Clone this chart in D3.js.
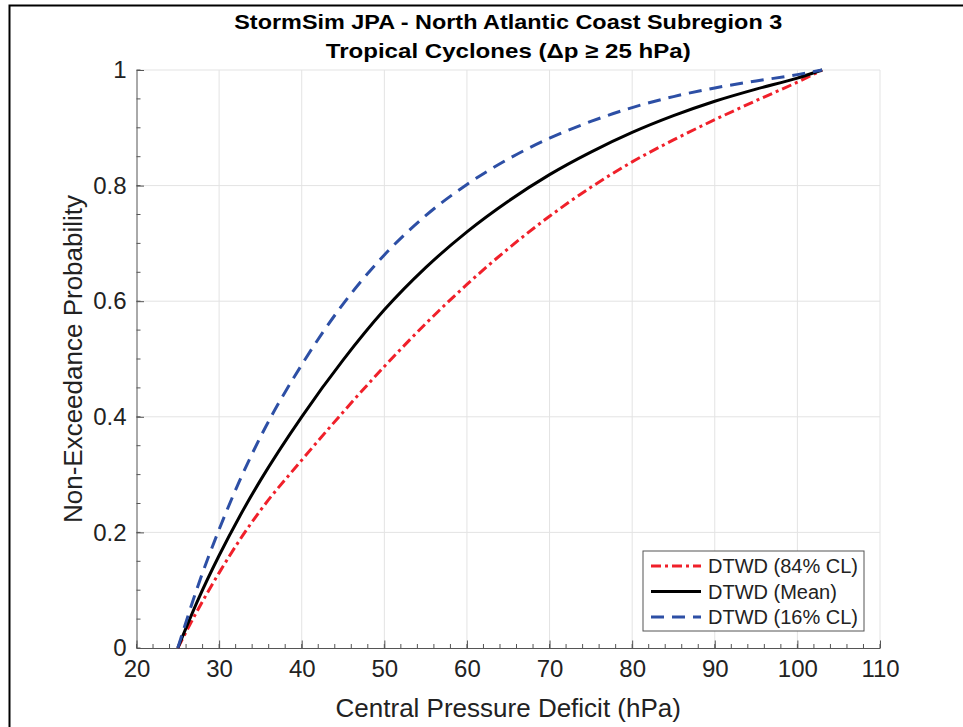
<!DOCTYPE html>
<html>
<head>
<meta charset="utf-8">
<script src="https://cdn.jsdelivr.net/npm/d3@7"></script>
<style>
  body { margin: 0; background: #fff; }
  svg { display: block; font-family: "Liberation Sans", Arial, sans-serif; }
</style>
</head>
<body>
<div id="chart"></div>
<script>
// pressure deficit values (hPa) where the curves were read
const deficit = [25, 27.5, 30, 32.5, 35, 40, 45, 50, 55, 60, 65, 70, 75, 80, 85, 90, 95, 100, 103];
// non-exceedance probability per series
const cl84 = [0, 0.068, 0.13, 0.187, 0.238, 0.325, 0.408, 0.487, 0.561, 0.629, 0.691, 0.747, 0.797, 0.841, 0.879, 0.914, 0.947, 0.979, 1];
const mean = [0, 0.085, 0.16, 0.228, 0.29, 0.4, 0.498, 0.585, 0.658, 0.72, 0.773, 0.819, 0.858, 0.892, 0.921, 0.946, 0.967, 0.986, 1];
const cl16 = [0, 0.11, 0.205, 0.29, 0.365, 0.49, 0.595, 0.68, 0.748, 0.802, 0.846, 0.882, 0.911, 0.935, 0.954, 0.969, 0.981, 0.992, 1];

const seriesNames = ["DTWD (84% CL)", "DTWD (Mean)", "DTWD (16% CL)"];
const xTicks = [20, 30, 40, 50, 60, 70, 80, 90, 100, 110];
const yTicks = [0, 0.2, 0.4, 0.6, 0.8, 1];

const W = 963, H = 727;
const margin = { top: 70, right: 83, bottom: 79, left: 136.5 };

const svg = d3.select("#chart").append("svg")
  .attr("width", W).attr("height", H);

// figure frame (only top and left edges are visible in the crop)
svg.append("path")
  .attr("d", `M9.5,${H} V5.5 H${W}`)
  .attr("fill", "none").attr("stroke", "#000").attr("stroke-width", 2);

const x = d3.scaleLinear().domain([20, 110]).range([margin.left, W - margin.right]);
const y = d3.scaleLinear().domain([0, 1]).range([H - margin.bottom, margin.top]);

// grid
const grid = svg.append("g").attr("stroke", "#e3e3e3").attr("stroke-width", 1);
grid.selectAll(".gx").data(xTicks.slice(1)).join("line")
  .attr("x1", d => x(d)).attr("x2", d => x(d))
  .attr("y1", y(0)).attr("y2", y(1));
grid.selectAll(".gy").data(yTicks.slice(1)).join("line")
  .attr("x1", x(20)).attr("x2", x(110))
  .attr("y1", d => y(d)).attr("y2", d => y(d));

// minor ticks
const axisColor = "#555";
const minor = svg.append("g").attr("stroke", axisColor).attr("stroke-width", 1);
minor.selectAll(".mx").data(d3.range(20, 110.01, 2)).join("line")
  .attr("x1", d => x(d)).attr("x2", d => x(d))
  .attr("y1", y(0)).attr("y2", y(0) - 4);
minor.selectAll(".my").data(d3.range(0, 1.001, 0.05)).join("line")
  .attr("x1", x(20)).attr("x2", x(20) + 4)
  .attr("y1", d => y(d)).attr("y2", d => y(d));

// axes
svg.append("g")
  .attr("transform", `translate(0,${y(0)})`)
  .call(d3.axisBottom(x).tickValues(xTicks).tickSize(-7.5).tickPadding(12).tickSizeOuter(0))
  .call(g => g.selectAll(".domain, line").attr("stroke", axisColor))
  .call(g => g.selectAll("text").attr("font-size", 24).attr("fill", "#222").attr("dy", "0.71em")
    .attr("font-family", "Liberation Sans, Arial, sans-serif"));

svg.append("g")
  .attr("transform", `translate(${x(20)},0)`)
  .call(d3.axisLeft(y).tickValues(yTicks).tickFormat(d3.format("~g")).tickSize(-7.5).tickPadding(10).tickSizeOuter(0))
  .call(g => g.selectAll(".domain, line").attr("stroke", axisColor))
  .call(g => g.selectAll("text").attr("font-size", 24).attr("fill", "#222")
    .attr("font-family", "Liberation Sans, Arial, sans-serif"));

// curves
const line = d3.line().x(d => x(d[0])).y(d => y(d[1])).curve(d3.curveMonotoneX);
const styles = [
  { data: cl84, color: "#f0202a", dash: "10,4,3,4" },
  { data: mean, color: "#000000", dash: null },
  { data: cl16, color: "#2d4fa5", dash: "13,8" }
];
styles.forEach(s => {
  svg.append("path")
    .datum(deficit.map((d, i) => [d, s.data[i]]))
    .attr("d", line)
    .attr("fill", "none")
    .attr("stroke", s.color)
    .attr("stroke-width", 3)
    .attr("stroke-dasharray", s.dash);
});

// title
const title = svg.append("g").attr("font-weight", "bold").attr("text-anchor", "middle").attr("fill", "#000");
title.append("text").attr("x", (x(20) + x(110)) / 2).attr("y", 29)
  .attr("font-size", 21).attr("textLength", 548).attr("lengthAdjust", "spacingAndGlyphs")
  .text("StormSim JPA - North Atlantic Coast Subregion 3");
title.append("text").attr("x", (x(20) + x(110)) / 2).attr("y", 58)
  .attr("font-size", 21).attr("textLength", 365).attr("lengthAdjust", "spacingAndGlyphs")
  .text("Tropical Cyclones (\u0394p \u2265 25 hPa)");

// axis labels
svg.append("text")
  .attr("x", (x(20) + x(110)) / 2).attr("y", 717)
  .attr("text-anchor", "middle").attr("font-size", 26).attr("fill", "#222")
  .text("Central Pressure Deficit (hPa)");
svg.append("text")
  .attr("transform", `translate(82,${(y(0) + y(1)) / 2}) rotate(-90)`)
  .attr("text-anchor", "middle").attr("font-size", 26).attr("fill", "#222")
  .text("Non-Exceedance Probability");

// legend
const lg = svg.append("g").attr("transform", "translate(643,551)");
lg.append("rect").attr("width", 221).attr("height", 80)
  .attr("fill", "#fff").attr("stroke", "#555").attr("stroke-width", 1);
styles.forEach((s, i) => {
  const yy = 15 + i * 25.5;
  lg.append("line").attr("x1", 8).attr("x2", 58).attr("y1", yy).attr("y2", yy)
    .attr("stroke", s.color).attr("stroke-width", 3).attr("stroke-dasharray", s.dash);
  lg.append("text").attr("x", 65).attr("y", yy).attr("dy", "0.35em")
    .attr("font-size", 20).attr("fill", "#222").text(seriesNames[i]);
});
</script>
</body>
</html>
